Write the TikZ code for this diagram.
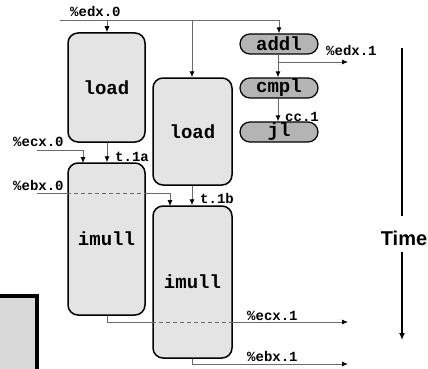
\documentclass[tikz,border=0pt]{standalone}
\usepackage{fontspec}
\setmonofont{Liberation Mono}
\setsansfont{Liberation Sans}
\usetikzlibrary{arrows.meta,shapes.misc,backgrounds}
\definecolor{boxfill}{HTML}{E4E4E4}
\definecolor{pillfill}{HTML}{B4B4B4}
\definecolor{wire}{HTML}{6A6A6A}
\definecolor{leftfill}{HTML}{D9D9D9}
\tikzset{
  opbox/.style={draw=black, line width=1.5pt, fill=boxfill, rounded corners=10pt,
    inner sep=0pt, font=\ttfamily\bfseries\fontsize{19}{20}\selectfont},
  pill/.style={draw=black, line width=1.2pt, fill=pillfill, rounded rectangle,
    inner sep=0pt, minimum width=78pt, minimum height=20pt,
    font=\ttfamily\bfseries\fontsize{19}{19}\selectfont},
  wirelbl/.style={anchor=base west, inner sep=0pt, font=\ttfamily\bfseries\fontsize{14}{14}\selectfont},
  wire/.style={draw=wire, line width=0.9pt},
  warrow/.style={wire, -{Latex[length=6pt,width=5pt,color=black]}},
  hidden/.style={draw=wire, line width=0.9pt, dash pattern=on 4pt off 3pt},
  timeline/.style={draw=black, line width=2.4pt},
}
\begin{document}
\begin{tikzpicture}[x=1pt,y=-1pt]
\useasboundingbox (0,0) rectangle (428,369);
% left partial box
\draw[line width=3.5pt, fill=leftfill] (-10,296) rectangle (37,380);
% operation boxes
\node[opbox, minimum width=77pt, minimum height=109pt] (load1) at (106.5,87.5) {load};
\node[opbox, minimum width=79pt, minimum height=107pt] (load2) at (192.5,131.5) {load};
\node[opbox, minimum width=77pt, minimum height=152pt] (imull1) at (106.5,239) {imull};
\node[opbox, minimum width=79pt, minimum height=152pt] (imull2) at (192.5,282) {imull};
\node[pill] (addl) at (279,44) {addl};
\node[pill] (cmpl) at (279,88) {cmpl};
\node[pill] (jl) at (279,132) {jl};
% coordinates
\coordinate (edx0) at (60,20);
\coordinate (ecx0) at (37,150);
\coordinate (ebx0) at (37,193);
\coordinate (edx1) at (348,62);
\coordinate (ecx1) at (348,322);
\coordinate (ebx1) at (348,364);
\coordinate (ld1in) at (107,20);
\coordinate (ld2in) at (192,20);
\coordinate (im1a) at (83,163);
\coordinate (im2a) at (170,206);
\coordinate (xa) at (278,0);
\begin{scope}[on background layer]
\draw[warrow] (edx0) -| (addl.north);
\draw[warrow] (ld1in) -- (ld1in |- load1.north);
\draw[warrow] (ld2in) -- (ld2in |- load2.north);
\draw[warrow] (ecx0) -| (im1a);
\draw[warrow] (load1.south -| ld1in) -- (ld1in |- imull1.north);
\draw[warrow] (ebx0) -| (im2a);
\draw[warrow] (load2.south -| ld2in) -- (ld2in |- imull2.north);
\draw[warrow] (imull1.south -| ld1in) |- (ecx1);
\draw[warrow] (imull2.south -| ld2in) |- (ebx1);
\end{scope}
\draw[hidden] (imull1.west |- ebx0) -- (imull1.east |- ebx0);
\draw[hidden] (imull2.west |- ecx1) -- (imull2.east |- ecx1);
\draw[warrow] (addl.south -| xa) -- (cmpl.north -| xa);
\draw[warrow] (xa |- edx1) -- (edx1);
\draw[warrow] (cmpl.south -| xa) -- (jl.north -| xa);
% labels
\node[wirelbl] (l1) at (70,17) {\%edx.0};
\node[wirelbl] (l2) at (326,56) {\%edx.1};
\node[wirelbl] (l3) at (285,121) {cc.1};
\node[wirelbl] (l4) at (13,146) {\%ecx.0};
\node[wirelbl] (l5) at (115,161) {t.1a};
\node[wirelbl] (l6) at (13,190) {\%ebx.0};
\node[wirelbl] (l7) at (200,203) {t.1b};
\node[wirelbl] (l8) at (247,320) {\%ecx.1};
\node[wirelbl] (l9) at (247,361) {\%ebx.1};
% time axis
\node[font=\sffamily\bfseries\fontsize{20}{20}\selectfont, inner sep=0pt] (time) at (404,238) {Time};
\coordinate (ttop) at (402,48);
\coordinate (tbot) at (402,340);
\draw[timeline] (ttop) -- (402,216);
\draw[timeline, -{Latex[length=7pt,width=6pt]}] (402,252) -- (tbot);
\end{tikzpicture}
\end{document}
